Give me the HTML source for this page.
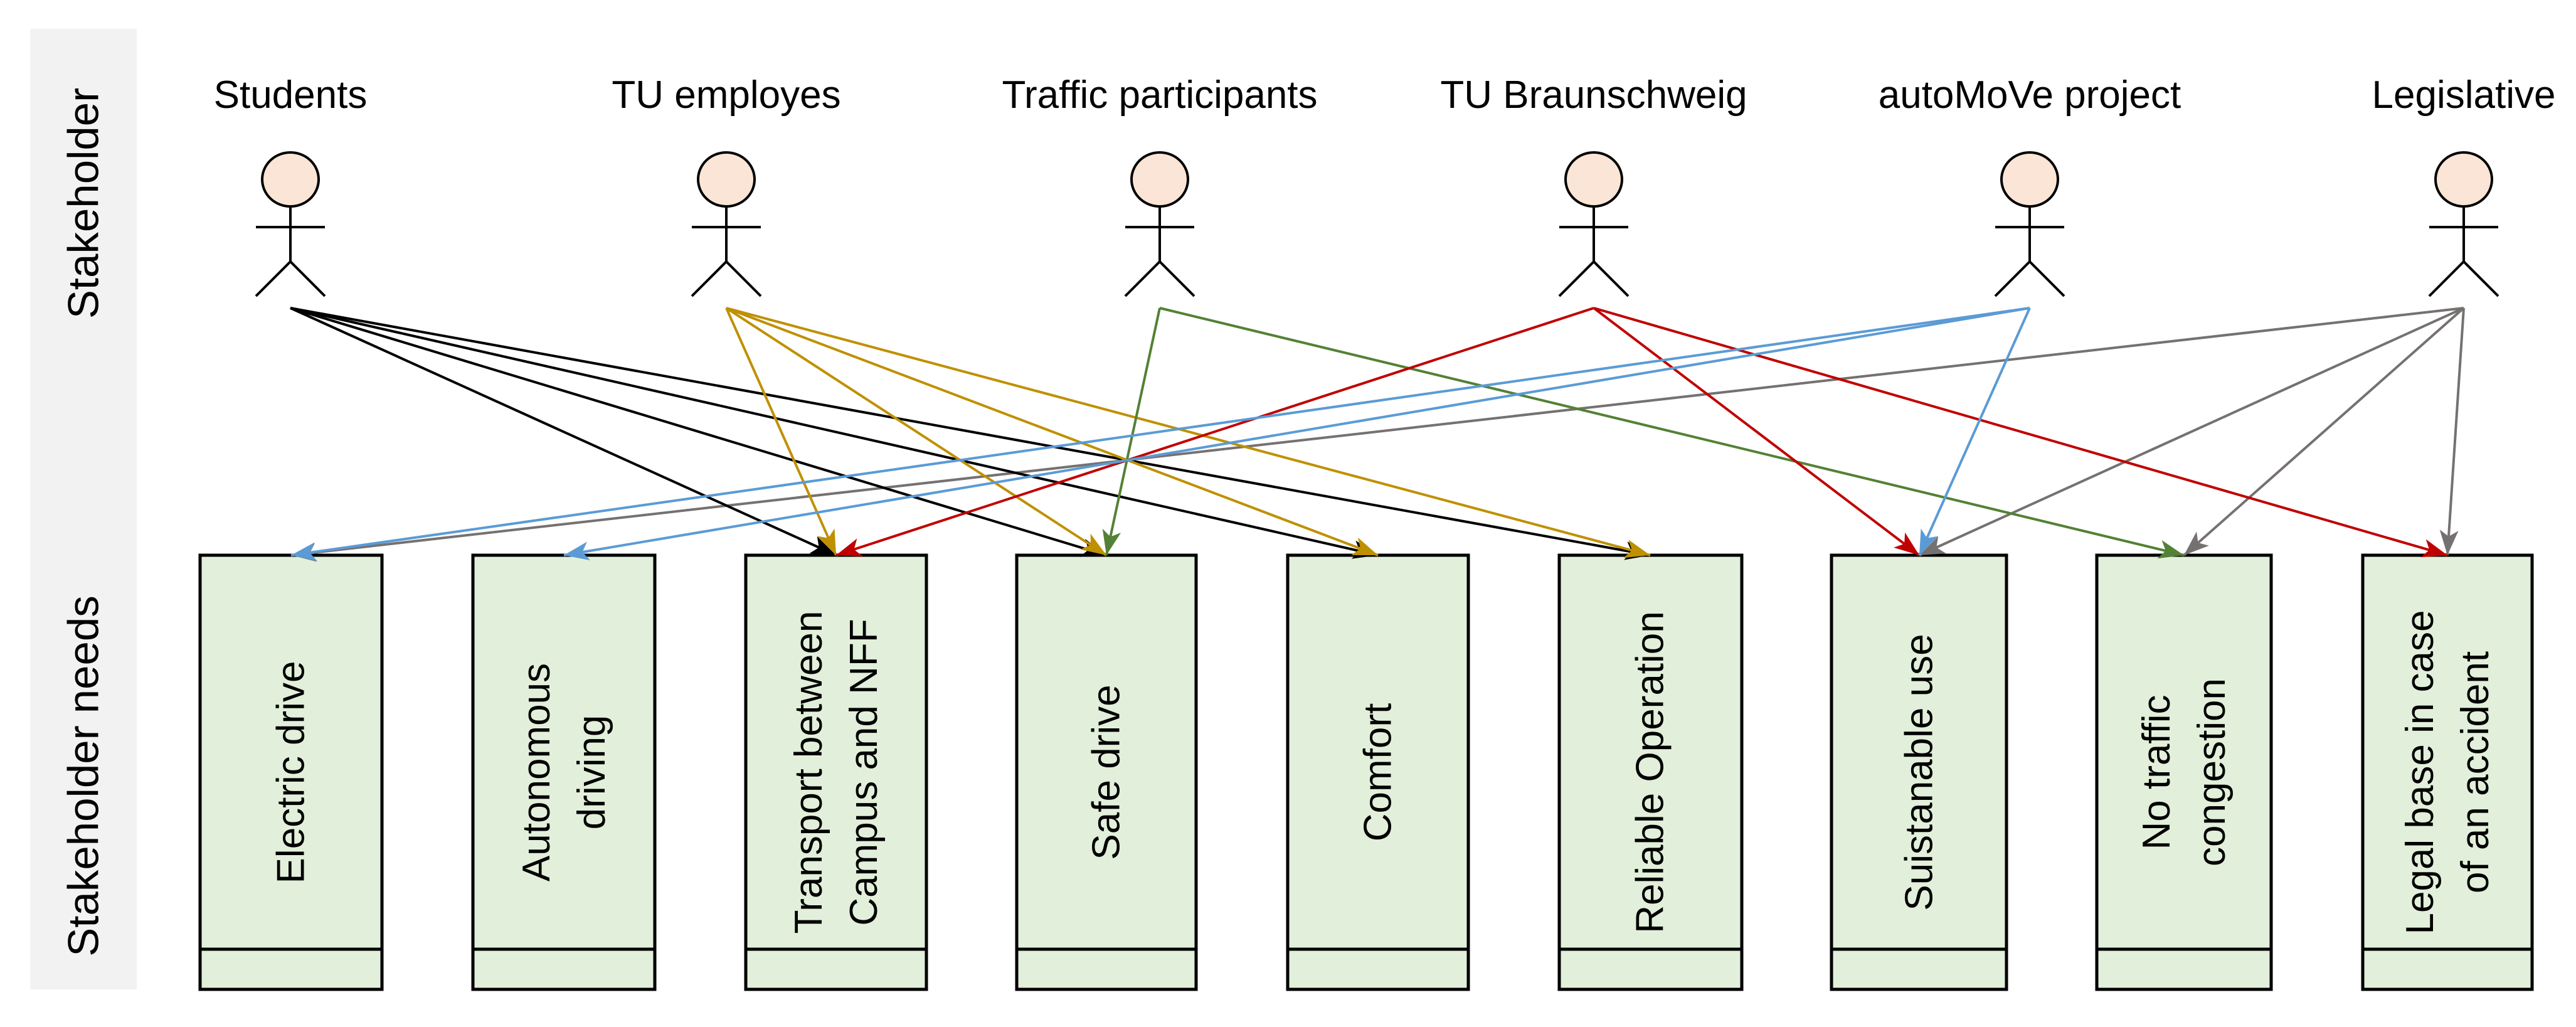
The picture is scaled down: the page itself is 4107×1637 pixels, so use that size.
<!DOCTYPE html>
<html><head><meta charset="utf-8"><style>
html,body{margin:0;padding:0;background:#fff;}
svg{display:block;}
text{font-family:"Liberation Sans",sans-serif;fill:#000;}
</style></head><body>
<svg width="4107" height="1637" viewBox="0 0 4107 1637" xmlns="http://www.w3.org/2000/svg">
<defs>
<marker id="mk" markerUnits="userSpaceOnUse" markerWidth="44" markerHeight="32" refX="40" refY="15" orient="auto"><path d="M0,0 L40,15 L0,30 L10,15 Z" fill="#000"/></marker>
<marker id="mg" markerUnits="userSpaceOnUse" markerWidth="44" markerHeight="32" refX="40" refY="15" orient="auto"><path d="M0,0 L40,15 L0,30 L10,15 Z" fill="#BF9000"/></marker>
<marker id="mgr" markerUnits="userSpaceOnUse" markerWidth="44" markerHeight="32" refX="40" refY="15" orient="auto"><path d="M0,0 L40,15 L0,30 L10,15 Z" fill="#538135"/></marker>
<marker id="mr" markerUnits="userSpaceOnUse" markerWidth="44" markerHeight="32" refX="40" refY="15" orient="auto"><path d="M0,0 L40,15 L0,30 L10,15 Z" fill="#C00000"/></marker>
<marker id="mb" markerUnits="userSpaceOnUse" markerWidth="44" markerHeight="32" refX="40" refY="15" orient="auto"><path d="M0,0 L40,15 L0,30 L10,15 Z" fill="#5B9BD5"/></marker>
<marker id="my" markerUnits="userSpaceOnUse" markerWidth="44" markerHeight="32" refX="40" refY="15" orient="auto"><path d="M0,0 L40,15 L0,30 L10,15 Z" fill="#767171"/></marker>
<g id="actor" fill="none" stroke="#000" stroke-width="4">
<ellipse cx="0" cy="286" rx="45" ry="43" fill="#FBE5D6"/>
<line x1="0" y1="329" x2="0" y2="417"/>
<line x1="-55" y1="362" x2="55" y2="362"/>
<polyline points="-55,472 0,417 55,472"/>
</g>
</defs>

<rect x="48" y="46" width="170" height="1531" fill="#F2F2F2"/>
<text transform="translate(133,324) rotate(-90)" text-anchor="middle" dominant-baseline="central" font-size="69">Stakeholder</text>
<text transform="translate(133,1237) rotate(-90)" text-anchor="middle" dominant-baseline="central" font-size="69">Stakeholder needs</text>

<g font-size="62" text-anchor="middle">
<text x="463" y="172">Students</text>
<text x="1158" y="172">TU employes</text>
<text x="1849" y="172">Traffic participants</text>
<text x="2541" y="172">TU Braunschweig</text>
<text x="3236" y="172">autoMoVe project</text>
<text x="3928" y="172">Legislative</text>
</g>
<use href="#actor" x="463"/>
<use href="#actor" x="1158"/>
<use href="#actor" x="1849"/>
<use href="#actor" x="2541"/>
<use href="#actor" x="3236"/>
<use href="#actor" x="3928"/>

<g fill="#E2EFDA" stroke="#000" stroke-width="5">
<rect x="319" y="885" width="290" height="692"/>
<rect x="754" y="885" width="290" height="692"/>
<rect x="1189" y="885" width="288" height="692"/>
<rect x="1621" y="885" width="286" height="692"/>
<rect x="2053" y="885" width="288" height="692"/>
<rect x="2486" y="885" width="291" height="692"/>
<rect x="2920" y="885" width="279" height="692"/>
<rect x="3343" y="885" width="278" height="692"/>
<rect x="3767" y="885" width="270" height="692"/>
</g>
<g stroke="#000" stroke-width="5">
<line x1="319" y1="1513" x2="609" y2="1513"/>
<line x1="754" y1="1513" x2="1044" y2="1513"/>
<line x1="1189" y1="1513" x2="1477" y2="1513"/>
<line x1="1621" y1="1513" x2="1907" y2="1513"/>
<line x1="2053" y1="1513" x2="2341" y2="1513"/>
<line x1="2486" y1="1513" x2="2777" y2="1513"/>
<line x1="2920" y1="1513" x2="3199" y2="1513"/>
<line x1="3343" y1="1513" x2="3621" y2="1513"/>
<line x1="3767" y1="1513" x2="4037" y2="1513"/>
</g>
<g font-size="62" text-anchor="middle" dominant-baseline="central">
<text transform="translate(464,1231) rotate(-90)">Electric drive</text>
<text transform="translate(899,1231) rotate(-90)"><tspan x="0" dy="-44">Autonomous</tspan><tspan x="0" dy="88">driving</tspan></text>
<text transform="translate(1333,1231) rotate(-90)"><tspan x="0" dy="-44">Transport between</tspan><tspan x="0" dy="88">Campus and NFF</tspan></text>
<text transform="translate(1764,1231) rotate(-90)">Safe drive</text>
<text transform="translate(2197,1231) rotate(-90)">Comfort</text>
<text transform="translate(2631,1231) rotate(-90)">Reliable Operation</text>
<text transform="translate(3060,1231) rotate(-90)">Suistanable use</text>
<text transform="translate(3482,1231) rotate(-90)"><tspan x="0" dy="-44">No traffic</tspan><tspan x="0" dy="88">congestion</tspan></text>
<text transform="translate(3902,1231) rotate(-90)"><tspan x="0" dy="-44">Legal base in case</tspan><tspan x="0" dy="88">of an accident</tspan></text>
</g>

<g fill="none" stroke-width="4">
<g stroke="#767171" marker-end="url(#my)">
<line x1="3928" y1="491" x2="464" y2="885"/>
<line x1="3928" y1="491" x2="3060" y2="885"/>
<line x1="3928" y1="491" x2="3482" y2="885"/>
<line x1="3928" y1="491" x2="3902" y2="885"/>
</g>
<g stroke="#000" marker-end="url(#mk)">
<line x1="463" y1="491" x2="1333" y2="885"/>
<line x1="463" y1="491" x2="1764" y2="885"/>
<line x1="463" y1="491" x2="2197" y2="885"/>
<line x1="463" y1="491" x2="2631" y2="885"/>
</g>
<g stroke="#BF9000" marker-end="url(#mg)">
<line x1="1158" y1="491" x2="1333" y2="885"/>
<line x1="1158" y1="491" x2="1764" y2="885"/>
<line x1="1158" y1="491" x2="2197" y2="885"/>
<line x1="1158" y1="491" x2="2631" y2="885"/>
</g>
<g stroke="#538135" marker-end="url(#mgr)">
<line x1="1849" y1="491" x2="1764" y2="885"/>
<line x1="1849" y1="491" x2="3482" y2="885"/>
</g>
<g stroke="#C00000" marker-end="url(#mr)">
<line x1="2541" y1="491" x2="1333" y2="885"/>
<line x1="2541" y1="491" x2="3060" y2="885"/>
<line x1="2541" y1="491" x2="3902" y2="885"/>
</g>
<g stroke="#5B9BD5" marker-end="url(#mb)">
<line x1="3236" y1="491" x2="464" y2="885"/>
<line x1="3236" y1="491" x2="899" y2="885"/>
<line x1="3236" y1="491" x2="3060" y2="885"/>
</g>
</g>
</svg>
</body></html>
